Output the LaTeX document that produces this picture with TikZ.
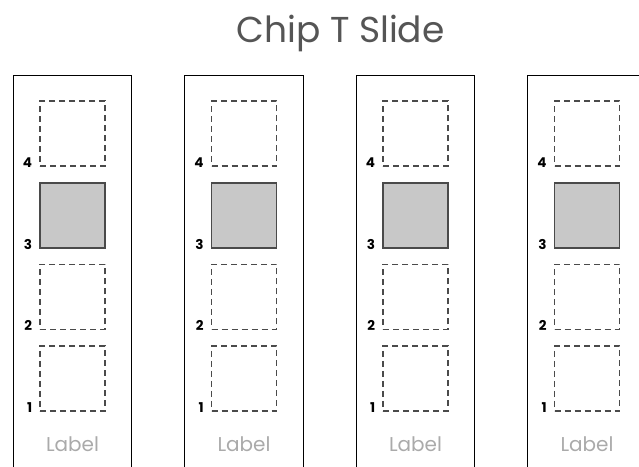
\documentclass[tikz,border=0pt]{standalone}
\usepackage{fontspec}
\setmainfont{Poppins}
\definecolor{titlegray}{HTML}{555555}
\definecolor{labelgray}{HTML}{AAAAAA}
\definecolor{slotline}{HTML}{4A4A4A}
\definecolor{chipfill}{HTML}{C8C8C8}
\tikzset{
  panel/.style={draw=black, line width=0.9pt},
  slot/.style={draw=slotline, line width=1.4pt, dash pattern=on 6pt off 4pt, minimum size=65pt, inner sep=0pt},
  chip/.style={draw=slotline, fill=chipfill, line width=1.4pt, minimum size=65pt, inner sep=0pt},
  slotnum/.style={font=\fontsize{13.5}{13.5}\selectfont\bfseries, inner sep=0pt, anchor=base east},
  paneltag/.style={font=\fontsize{20}{20}\selectfont, text=labelgray, inner sep=0pt, anchor=base}
}
\begin{document}
\begin{tikzpicture}[x=1pt,y=-1pt]
  \useasboundingbox (0,0) rectangle (639,466);
  \clip (0,0) rectangle (639,466);
  \node[font=\fontsize{36}{36}\selectfont, text=titlegray, inner sep=0pt, anchor=base] (title) at (340.5,42.3) {Chip T Slide};
  \foreach \i in {0,1,2,3} {
    \pgfmathsetmacro{\xl}{13+171.5*\i}
    \pgfmathsetmacro{\xc}{\xl+59.5}
    \draw[panel] (\xl,75.5) rectangle ++(118.5,400) coordinate (p\i);
    \node[slot] (b\i4) at (\xc,133.5) {};
    \node[chip] (b\i3) at (\xc,215.3) {};
    \node[slot] (b\i2) at (\xc,296.8) {};
    \node[slot] (b\i1) at (\xc,378.4) {};
    \foreach \j in {1,2,3,4} {
      \node[slotnum] (n\i\j) at ([xshift=-7pt,yshift=-0.5pt]b\i\j.south west) {\j};
    }
    \node[paneltag] (t\i) at (\xc,451.5) {Label};
  }
\end{tikzpicture}
\end{document}
